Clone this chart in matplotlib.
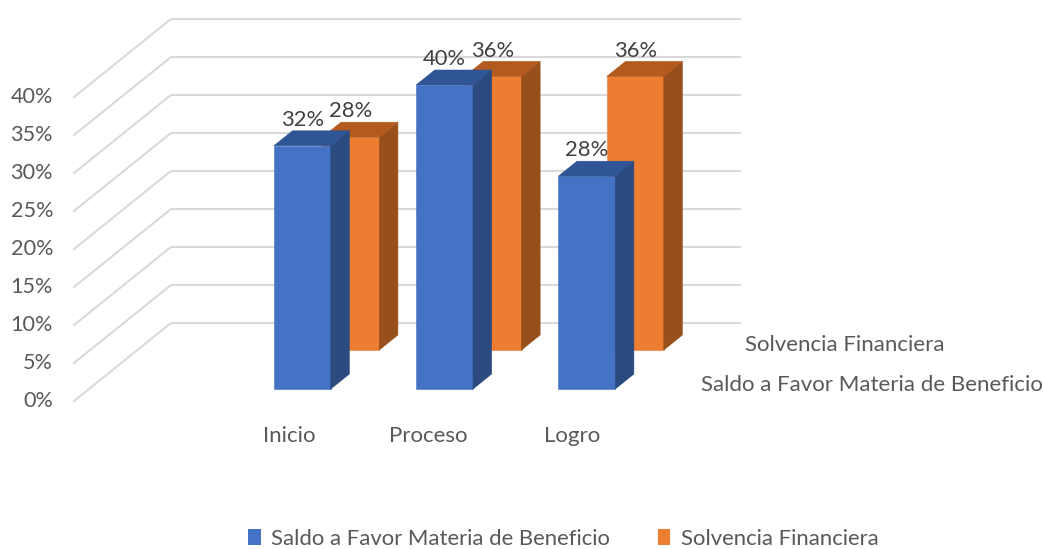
from matplotlib import pyplot as plt
from matplotlib.patches import Patch, Polygon

categories = ['Inicio', 'Proceso', 'Logro']
series_names = ['Saldo a Favor Materia de Beneficio', 'Solvencia Financiera']
saldo_values = [32, 40, 28]
solvencia_values = [28, 36, 36]
y_ticks = [0, 5, 10, 15, 20, 25, 30, 35, 40]

# pixels per unit of the fake 3d box
PX_X = 142.25
PX_Y = 7.6
DEPTH_X = 97 / PX_X
DEPTH_Y = 78 / PX_Y
LEFT = 74
FLOOR = 401


def proj(x, v, d):
    # oblique projection: d=0 front of the floor, d=1 back wall
    return x + DEPTH_X * d, v + DEPTH_Y * d


def draw_bar(ax, x, v, d0, d1, width, front, side, top):
    x1 = x + width
    ax.add_patch(Polygon([proj(x, 0, d0), proj(x1, 0, d0), proj(x1, v, d0), proj(x, v, d0)],
                         facecolor=front, edgecolor=front, lw=0.4, zorder=3))
    ax.add_patch(Polygon([proj(x1, 0, d0), proj(x1, 0, d1), proj(x1, v, d1), proj(x1, v, d0)],
                         facecolor=side, edgecolor=side, lw=0.4, zorder=3))
    ax.add_patch(Polygon([proj(x, v, d0), proj(x1, v, d0), proj(x1, v, d1), proj(x, v, d1)],
                         facecolor=top, edgecolor=top, lw=0.4, zorder=3))


plt.rcParams['font.family'] = ['Lato', 'DejaVu Sans']
fig = plt.figure(figsize=(10.43, 5.49), dpi=100)
ax = fig.add_axes([0, 0, 1, 1])
ax.set_xlim(-LEFT / PX_X, (1043 - LEFT) / PX_X)
ax.set_ylim((FLOOR - 549) / PX_Y, FLOOR / PX_Y)
ax.axis('off')

# walls
for t in y_ticks:
    xs, ys = zip(proj(0, t, 0), proj(0, t, 1), proj(4, t, 1))
    ax.plot(xs, ys, color='#d9d9d9', lw=1.5, zorder=1, solid_joinstyle='miter')
    ax.text(-21 / PX_X, t - 0.05, f'{t}%', ha='right', va='center', fontsize=15.6, color='#595959')

bar_w = 0.4
styles = [
    (0.154, 0.346, '#4472c4', '#2a4a80', '#2f5597', saldo_values),
    (0.654, 0.846, '#ed7d31', '#97501b', '#b35a1f', solvencia_values),
]

# back series first so the front one covers it
for d0, d1, front, side, top, values in styles[::-1]:
    for i, v in enumerate(values):
        x = i + 1.5 - bar_w / 2
        draw_bar(ax, x, v, d0, d1, bar_w, front, side, top)
        lx, ly = proj(x + bar_w / 2, v, d0)
        ax.text(lx, ly + 3.4, f'{v}%', ha='center', va='center', fontsize=15.8,
                color='#404040', zorder=4)

# the category labels are not evenly spaced in the original
label_shift = [0.01, -0.012, 0.0]
for i, name in enumerate(categories):
    ax.text(i + 1.5 + label_shift[i], -4.55, name, ha='center', va='center', fontsize=16, color='#595959')

# series names on the depth axis
ax.text(745 / PX_X - LEFT / PX_X, (FLOOR - 345) / PX_Y, series_names[1], ha='left', va='center',
        fontsize=16, color='#595959')
ax.text(701 / PX_X - LEFT / PX_X, (FLOOR - 385) / PX_Y, series_names[0], ha='left', va='center',
        fontsize=16, color='#595959')

handles = [Patch(facecolor='#4472c4', label=series_names[0]),
           Patch(facecolor='#ed7d31', label=series_names[1])]
ax.legend(handles=handles, loc='lower center', bbox_to_anchor=(0.540, 0.0), ncol=2, frameon=False,
          fontsize=15.9, labelcolor='#595959', handlelength=0.58, handleheight=0.75,
          handletextpad=0.48, columnspacing=2.15, borderpad=0, borderaxespad=0)

fig.savefig('out.png', dpi=100)
